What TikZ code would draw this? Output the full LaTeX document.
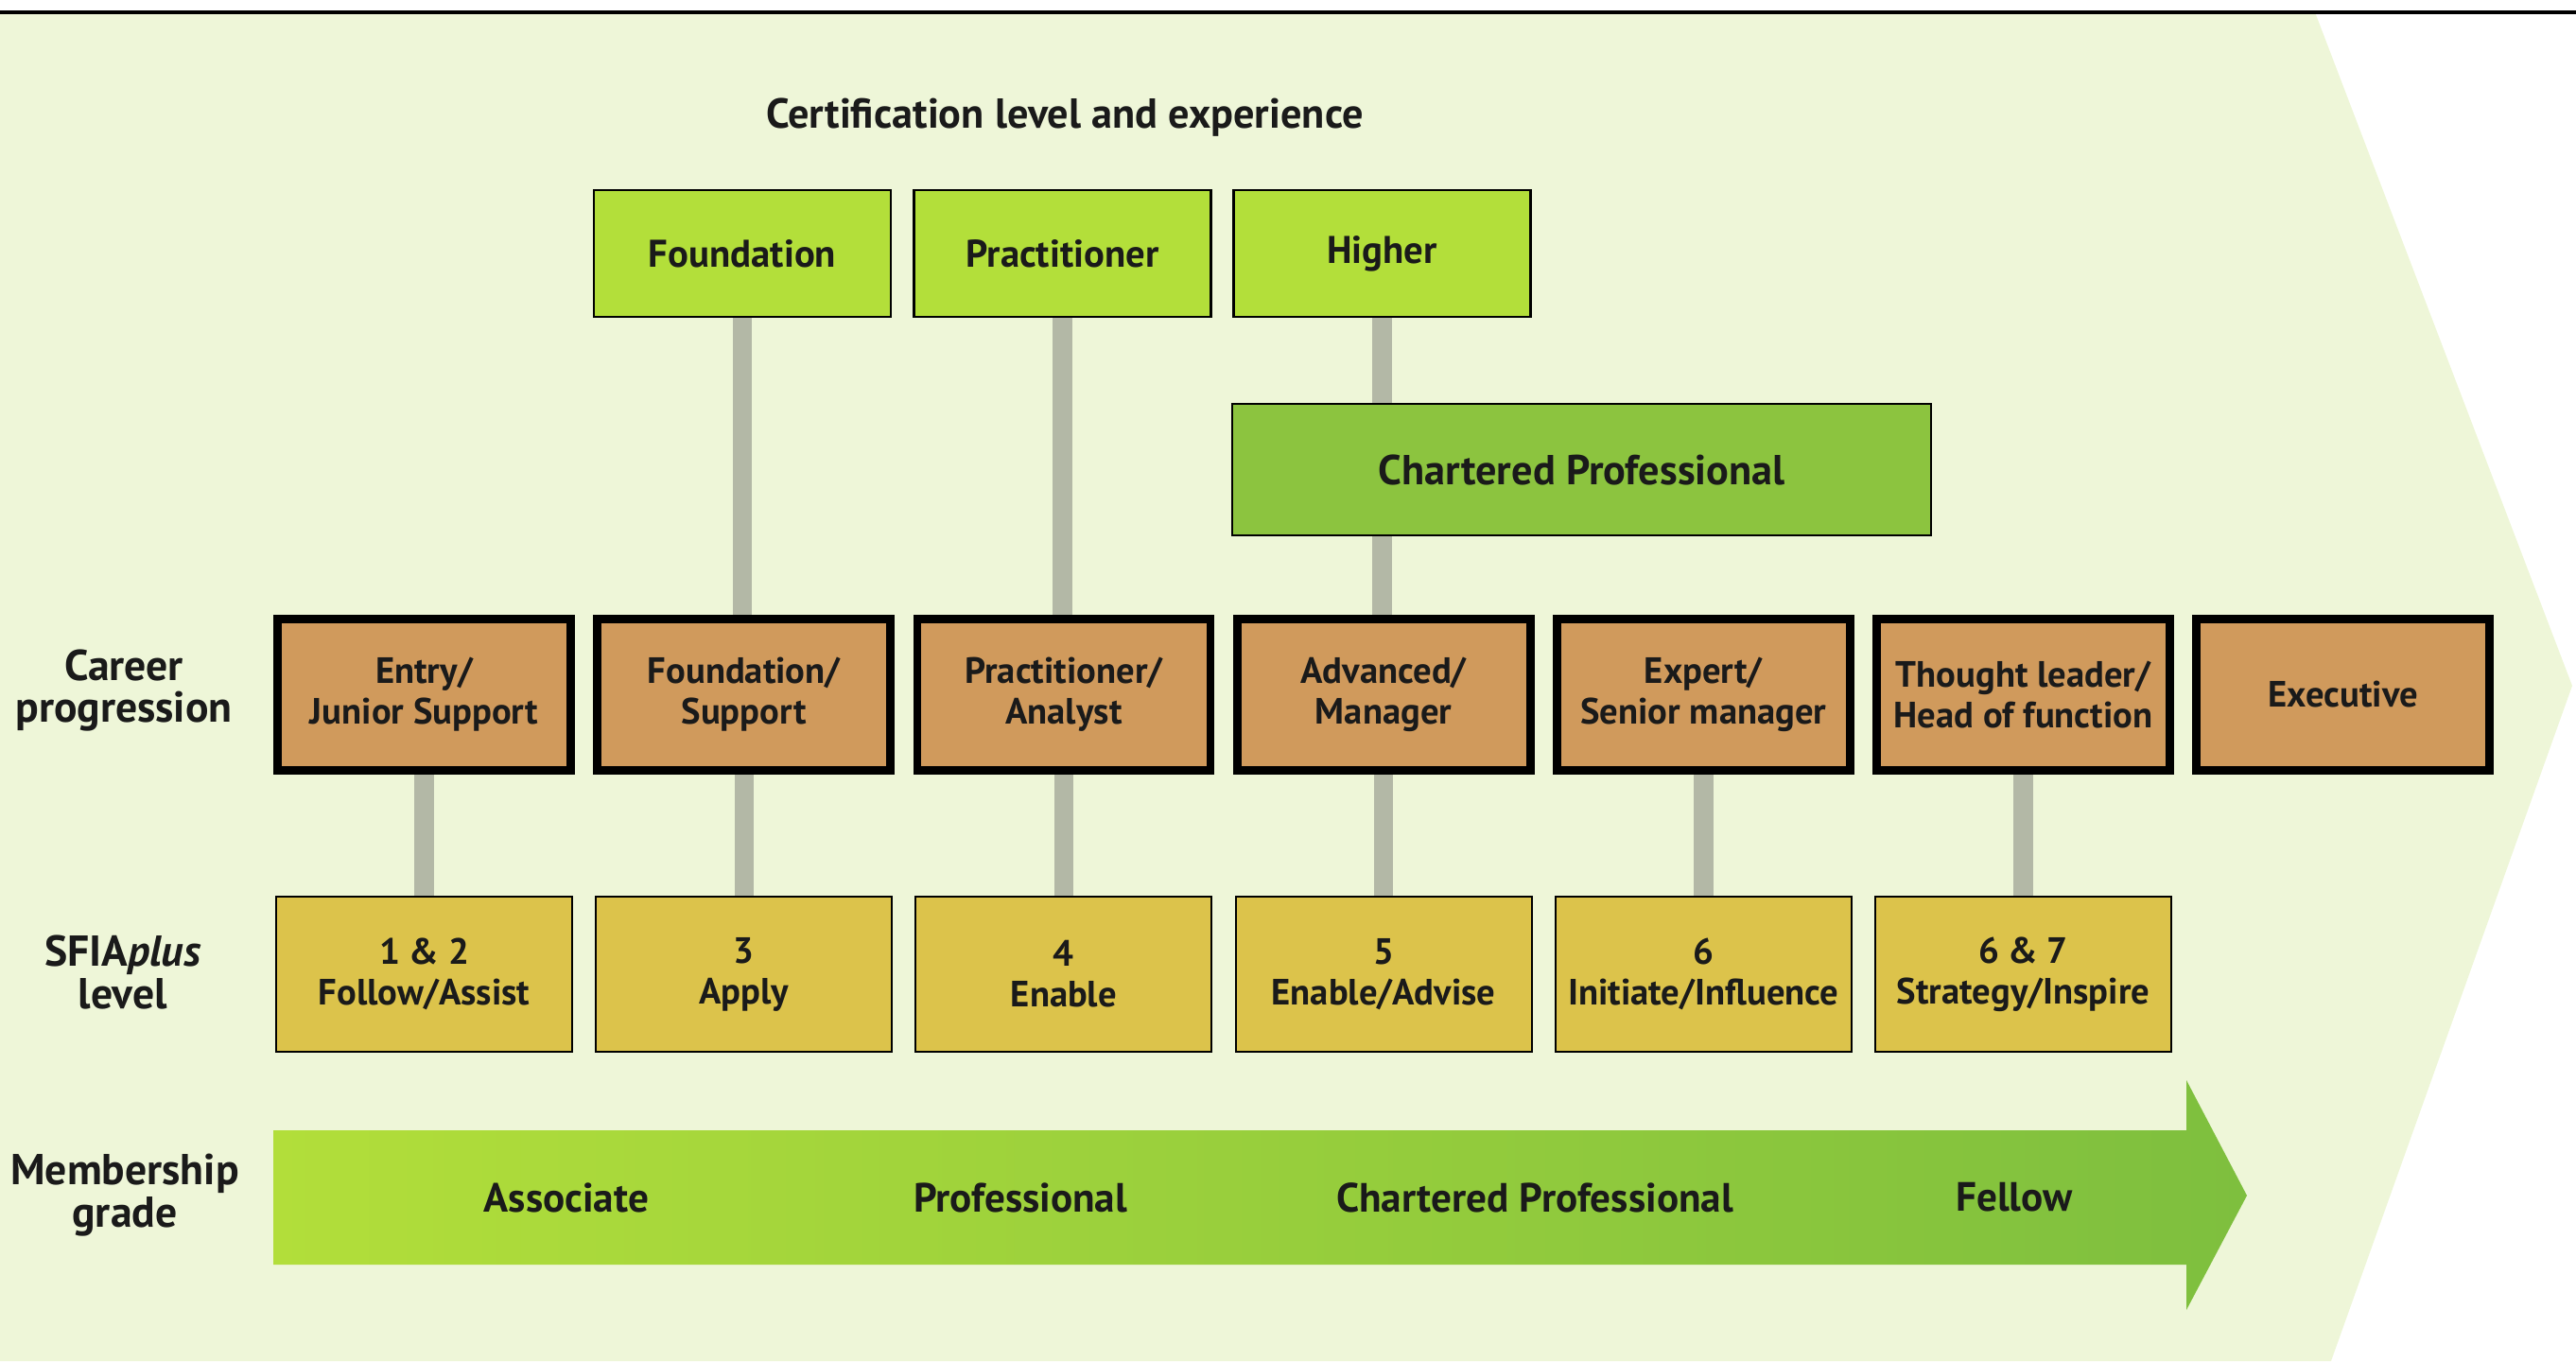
\documentclass[tikz,border=0pt]{standalone}
\usepackage{fontspec}
\setmainfont{PT Sans}
\usetikzlibrary{backgrounds}

\definecolor{bgpale}{HTML}{EEF6D8}
\definecolor{certgreen}{HTML}{B3DF3A}
\definecolor{chartgreen}{HTML}{8CC43F}
\definecolor{careerbrown}{HTML}{D09A5C}
\definecolor{sfiagold}{HTML}{DCC34B}
\definecolor{linkgrey}{HTML}{B3B8A6}
\definecolor{textdark}{HTML}{1A1A1A}
\definecolor{arrowleft}{HTML}{B2DE3A}
\definecolor{arrowright}{HTML}{7EBF3E}

\tikzset{
	txt/.style={align=center, text=textdark, font=\bfseries\fontsize{11}{12.2}\selectfont},
	bigtxt/.style={txt, font=\bfseries\fontsize{12.6}{12.2}\selectfont},
	sidelabel/.style={txt, font=\bfseries\fontsize{13}{12.6}\selectfont},
	gradelabel/.style={txt, font=\bfseries\fontsize{12.3}{12.2}\selectfont},
	box/.style={txt, draw=black, inner sep=0pt},
	certbox/.style={box, fill=certgreen, line width=0.6pt, minimum width=3.14cm, minimum height=1.34cm, font=\bfseries\fontsize{11.6}{12.2}\selectfont},
	chartbox/.style={box, bigtxt, fill=chartgreen, line width=0.6pt, minimum width=7.39cm, minimum height=1.39cm},
	careerbox/.style={box, fill=careerbrown, line width=2.5pt, minimum width=3.10cm, minimum height=1.60cm},
	sfiabox/.style={box, fill=sfiagold, line width=0.6pt, minimum width=3.13cm, minimum height=1.64cm},
	link/.style={linkgrey, line width=5.8pt}
}

\begin{document}
\begin{tikzpicture}
			\useasboundingbox (0,0) rectangle (27.24,14.39);
			\begin{scope}[on background layer]
				\fill [bgpale] (0,14.26) -- (24.48,14.26) -- (27.20,7.14) -- (24.65,0) -- (0,0) -- cycle;
			\end{scope}
			\draw [line width=0.9pt] (0,14.26) -- (27.24,14.26);

			\node [bigtxt] (title) at (11.26,13.15) {Certification level and experience};

			% certification level
			\node [certbox] (cfound) at (7.85,11.71) {Foundation};
			\node [certbox] (cprac) at (11.235,11.71) {Practitioner};
			\node [certbox] (chigh) at (14.615,11.71) {Higher};
			\node [chartbox] (chart) at (16.725,9.425) {Chartered Professional};

			% career progression
			\node [sidelabel] (lcar) at (1.31,7.09) {Career\\progression};
			\node [careerbox] (car1) at (4.485,7.045) {Entry/\\Junior Support};
			\node [careerbox] (car2) at (7.867,7.045) {Foundation/\\Support};
			\node [careerbox] (car3) at (11.249,7.045) {Practitioner/\\Analyst};
			\node [careerbox] (car4) at (14.631,7.045) {Advanced/\\Manager};
			\node [careerbox] (car5) at (18.013,7.045) {Expert/\\Senior manager};
			\node [careerbox] (car6) at (21.395,7.045) {Thought leader/\\Head of function};
			\node [careerbox] (car7) at (24.777,7.045) {Executive};

			% sfia level
			\node [sidelabel] (lsfia) at (1.30,4.11) {SFIA\textit{plus}\\level};
			\node [sfiabox] (sfia1) at (4.485,4.09) {1 \& 2\\Follow/Assist};
			\node [sfiabox] (sfia2) at (7.867,4.09) {3\\Apply};
			\node [sfiabox] (sfia3) at (11.249,4.09) {4\\Enable};
			\node [sfiabox] (sfia4) at (14.631,4.09) {5\\Enable/Advise};
			\node [sfiabox] (sfia5) at (18.013,4.09) {6\\Initiate/Influence};
			\node [sfiabox] (sfia6) at (21.395,4.09) {6 \& 7\\Strategy/Inspire};

			% membership grade
			\node [sidelabel] (lmem) at (1.32,1.755) {Membership\\grade};
			\shade [left color=arrowleft, right color=arrowright] (2.89,2.44) -- (23.12,2.44) -- (23.12,2.97) -- (23.76,1.75) -- (23.12,0.54) -- (23.12,1.02) -- (2.89,1.02) -- cycle;
			\node [gradelabel] (massoc) at (5.99,1.73) {Associate};
			\node [gradelabel] (mprof) at (10.79,1.73) {Professional};
			\node [gradelabel] (mchart) at (16.23,1.73) {Chartered Professional};
			\node [gradelabel] (mfell) at (21.30,1.73) {Fellow};

			\begin{scope}[on background layer]
				\draw [link] (cfound.south) -- (cfound.south |- car2.north);
				\draw [link] (cprac.south) -- (cprac.south |- car3.north);
				\draw [link] (chigh.south) -- (chigh.south |- chart.north);
				\draw [link] (chigh.south |- chart.south) -- (chigh.south |- car4.north);
				\foreach \i in {1,...,6}
					\draw [link] (car\i.south) -- (sfia\i.north);
			\end{scope}
		\end{tikzpicture}
\end{document}
